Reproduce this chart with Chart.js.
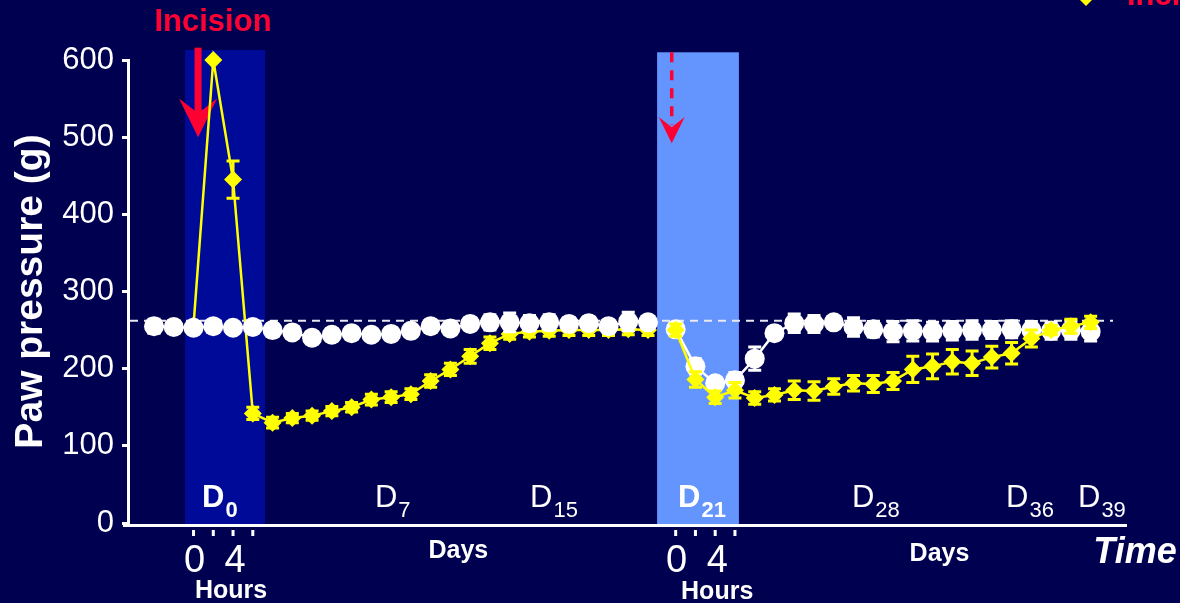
<!DOCTYPE html>
<html><head><meta charset="utf-8">
<script src="https://cdn.jsdelivr.net/npm/chart.js@4.4.1/dist/chart.umd.min.js"></script>
<style>html,body{margin:0;padding:0;background:#000050;overflow:hidden}canvas{display:block}</style>
</head><body>
<canvas id="c" width="1180" height="603"></canvas>
<script>
// ---- data (x = sampling slot; first block D0..D20, second block starts at D21) ----
const seg1Slots = [0,1,2,3,4,5,6,7,8,9,10,11,12,13,14,15,16,17,18,19,20,21,22,23,24,25];
const controlSeg1 = [255,254,253,255,253,254,250,247,240,244,246,244,245,249,255,252,258,260,260,259,260,258,259,255,261,260];
const controlSeg1Err = [9,8,8,8,6,8,8,6,8,8,6,6,8,6,8,8,8,10,12,10,10,8,8,8,12,8];
const incisionSeg1Slots = [2,3,4,5,6,7,8,9,10,11,12,13,14,15,16,17,18,19,20,21,22,23,24,25];
const incisionSeg1 = [256,600,445,142,130,136,139,145,150,160,163,167,184,199,216,233,245,248,249,250,250,250,251,250];
const incisionSeg1Err = [0,0,24,8,7,6,6,6,6,7,7,7,8,8,9,8,7,7,7,7,7,7,7,7];
const seg2Slots = [26.4,27.4,28.4,29.4,30.4,31.4,32.4,33.4,34.4,35.4,36.4,37.4,38.4,39.4,40.4,41.4,42.4,43.4,44.4,45.4,46.4,47.4];
const controlSeg2 = [251,203,181,185,213,246,259,258,260,254,251,248,249,248,249,250,250,251,250,249,250,248];
const controlSeg2Err = [8,10,8,10,15,8,12,11,6,12,10,13,13,12,12,12,11,11,11,11,12,12];
const incisionSeg2 = [250,186,163,172,162,166,172,171,177,181,180,184,199,203,209,207,215,220,239,250,255,260];
const incisionSeg2Err = [8,10,8,10,8,8,12,12,10,10,11,11,17,16,16,16,14,14,11,6,9,8];
const baselineValue = 262;
const yTicks = [0,100,200,300,400,500,600];
const hourTickSlots1 = [2,3,4,5];
const hourTickSlots2 = [26.4,27.4,28.4,29.4];
const hourLabels = ['0','4'];
const dayMain = ['D','D','D','D','D','D','D'];
const daySub = ['0','7','15','21','28','36','39'];
const dayBold = [true,false,false,true,false,false,false];

// ---- layout / style ----
const FONT = "'Liberation Sans', Arial, sans-serif";
const WHITE = '#ffffff', YELLOW = '#ffff00', RED = '#ff0033';
const daySlotPos = [2.43,11.18,19.03,26.52,35.32,43.12,46.76];
const bands = [{from:1.57,to:5.62,top:613,color:'#000a99'},{from:25.46,to:29.6,top:610,color:'#6494fd'}];

function pts(xs, ys){ return xs.map((x,i)=>({x:x,y:ys[i]})); }

const overlay = {
  id:'overlay',
  beforeDatasetsDraw(chart){
    const {ctx, scales:{x,y}} = chart;
    ctx.save();
    const y0 = y.getPixelForValue(0);
    bands.forEach(b=>{
      const x0 = x.getPixelForValue(b.from), x1 = x.getPixelForValue(b.to);
      const yt = y.getPixelForValue(b.top);
      ctx.fillStyle = b.color;
      ctx.fillRect(x0, yt, x1-x0, y0+2-yt);
    });
    // solid incision arrow
    let ax = x.getPixelForValue(2.23);
    ctx.fillStyle = RED;
    ctx.fillRect(ax-3.5, y.getPixelForValue(616), 7, y.getPixelForValue(528)-y.getPixelForValue(616));
    ctx.beginPath();
    ctx.moveTo(ax-19, y.getPixelForValue(550));
    ctx.lineTo(ax, y.getPixelForValue(531));
    ctx.lineTo(ax+19, y.getPixelForValue(550));
    ctx.lineTo(ax, y.getPixelForValue(500));
    ctx.closePath(); ctx.fill();
    // dashed second arrow
    ax = x.getPixelForValue(26.2);
    ctx.strokeStyle = RED; ctx.lineWidth = 3.5; ctx.setLineDash([10,8]);
    ctx.beginPath(); ctx.moveTo(ax, y.getPixelForValue(610)); ctx.lineTo(ax, y.getPixelForValue(516)); ctx.stroke();
    ctx.setLineDash([]);
    ctx.beginPath();
    ctx.moveTo(ax-13, y.getPixelForValue(526));
    ctx.lineTo(ax, y.getPixelForValue(513));
    ctx.lineTo(ax+13, y.getPixelForValue(526));
    ctx.lineTo(ax, y.getPixelForValue(492));
    ctx.closePath(); ctx.fill();
    // dashed baseline
    const yb = y.getPixelForValue(baselineValue);
    ctx.strokeStyle = '#e8e8f0'; ctx.lineWidth = 2; ctx.setLineDash([8,6]);
    ctx.beginPath(); ctx.moveTo(chart.chartArea.left+2, yb); ctx.lineTo(1113, yb); ctx.stroke();
    ctx.restore();
  },
  beforeDatasetDraw(chart, args){
    const ds = chart.data.datasets[args.index];
    const errs = ds.errors; if(!errs) return;
    const {ctx, scales:{y}} = chart;
    ctx.save();
    ctx.strokeStyle = ds.borderColor; ctx.lineWidth = 3;
    args.meta.data.forEach((p,i)=>{
      const e = errs[i]; if(!e) return;
      const v = ds.data[i].y;
      const t = y.getPixelForValue(v+e), b = y.getPixelForValue(v-e);
      const cw = 6.5;
      ctx.beginPath();
      ctx.moveTo(p.x, t); ctx.lineTo(p.x, b);
      ctx.moveTo(p.x-cw, t); ctx.lineTo(p.x+cw, t);
      ctx.moveTo(p.x-cw, b); ctx.lineTo(p.x+cw, b);
      ctx.stroke();
    });
    ctx.restore();
  },
  afterDraw(chart){
    const {ctx, scales:{x,y}} = chart;
    ctx.save();
    const y0 = y.getPixelForValue(0);
    // x axis line
    ctx.fillStyle = WHITE;
    ctx.fillRect(123, y0+1, 1127-123, 3);
    // hour ticks
    hourTickSlots1.concat(hourTickSlots2).forEach(s=>{
      ctx.fillRect(x.getPixelForValue(s)-1.5, y0+7, 3, 6);
    });
    ctx.textAlign = 'center'; ctx.textBaseline = 'alphabetic';
    ctx.font = '38px ' + FONT;
    [[2,4],[26.4,28.4]].forEach(pair=>{
      ctx.fillText(hourLabels[0], x.getPixelForValue(pair[0])+1, 572);
      ctx.fillText(hourLabels[1], x.getPixelForValue(pair[1])+2, 572);
    });
    ctx.font = 'bold 25px ' + FONT;
    ctx.fillText('Hours', x.getPixelForValue(3.9), 598);
    ctx.fillText('Hours', x.getPixelForValue(28.5), 599);
    ctx.font = 'bold 25px ' + FONT;
    ctx.fillText('Days', x.getPixelForValue(15.4), 558);
    ctx.fillText('Days', x.getPixelForValue(39.75), 561);
    ctx.font = 'italic bold 36px ' + FONT;
    ctx.fillText('Time', 1135, 563);
    // day labels inside plot
    ctx.textAlign = 'left';
    dayMain.forEach((m,i)=>{
      const px = x.getPixelForValue(daySlotPos[i]);
      const w = dayBold[i] ? 'bold ' : '';
      ctx.font = w + '31px ' + FONT;
      ctx.fillText(m, px, 507);
      const mw = ctx.measureText(m).width;
      ctx.font = w + '22px ' + FONT;
      ctx.fillText(daySub[i], px+mw+1, 517);
    });
    // top texts
    ctx.fillStyle = RED;
    ctx.textAlign = 'center';
    ctx.font = 'bold 31px ' + FONT;
    ctx.fillText('Incision', 213, 31);
    // clipped legend at top right
    ctx.textAlign = 'left';
    ctx.fillText('Incision', 1127, 5);
    ctx.fillStyle = YELLOW;
    ctx.beginPath();
    ctx.moveTo(1086-8,-2); ctx.lineTo(1086,-10); ctx.lineTo(1086+8,-2); ctx.lineTo(1086,6);
    ctx.closePath(); ctx.fill();
    ctx.restore();
  }
};

const whiteStyle = {borderColor:WHITE, backgroundColor:WHITE, pointBackgroundColor:WHITE, pointBorderColor:WHITE, pointStyle:'circle', pointRadius:10, pointBorderWidth:0, borderWidth:2.5, clip:false, tension:0};
const yellowStyle = {borderColor:YELLOW, backgroundColor:YELLOW, pointBackgroundColor:YELLOW, pointBorderColor:YELLOW, pointStyle:'rectRot', pointRadius:9, pointBorderWidth:0, borderWidth:2.5, clip:false, tension:0};

new Chart(document.getElementById('c'), {
  type:'line',
  data:{datasets:[
    Object.assign({label:'Control', data:pts(seg1Slots, controlSeg1), errors:controlSeg1Err}, whiteStyle),
    Object.assign({label:'Incision', data:pts(seg2Slots, incisionSeg2), errors:incisionSeg2Err}, yellowStyle),
    Object.assign({label:'Incision', data:pts(incisionSeg1Slots, incisionSeg1), errors:incisionSeg1Err}, yellowStyle),
    Object.assign({label:'Control', data:pts(seg2Slots, controlSeg2), errors:controlSeg2Err}, whiteStyle)
  ]},
  options:{
    responsive:false, animation:false, devicePixelRatio:1,
    layout:{padding:{left:0, top:60, right:53, bottom:80}},
    plugins:{legend:{display:false}, tooltip:{enabled:false}},
    scales:{
      x:{type:'linear', min:-1.316, max:49.24, display:false},
      y:{min:0, max:600,
         afterBuildTicks(s){ s.ticks = yTicks.map(v=>({value:v})); },
         afterFit(s){ s.width = 128; },
         ticks:{color:WHITE, font:{family:FONT, size:31}, padding:8},
         grid:{drawOnChartArea:false, color:WHITE, lineWidth:3, tickLength:6},
         border:{color:WHITE, width:3},
         title:{display:true, text:'Paw pressure (g)', color:WHITE, font:{family:FONT, size:39, weight:'bold'}, padding:{top:8, bottom:0}}
      }
    }
  },
  plugins:[overlay]
});
</script>
</body></html>
